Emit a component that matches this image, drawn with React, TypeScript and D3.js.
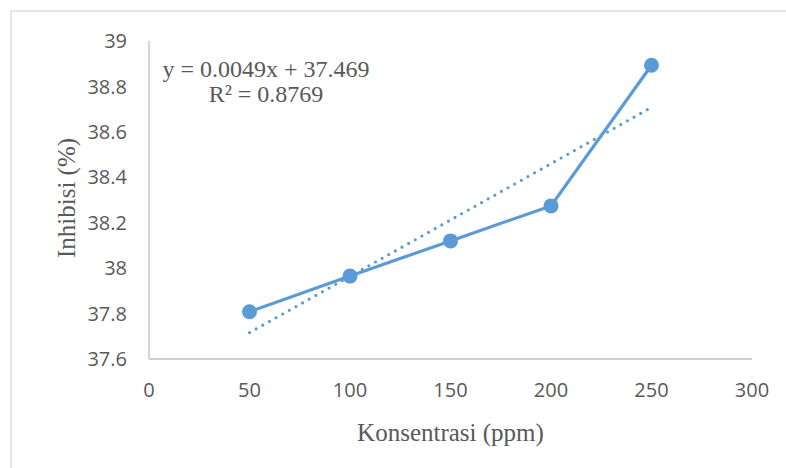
import React from "react";
import { scaleLinear, line, extent } from "d3";

const concentrations = [50, 100, 150, 200, 250];
const inhibition = [37.808, 37.965, 38.12, 38.274, 38.893];
const xTicks = [0, 50, 100, 150, 200, 250, 300];
const yTicks = [37.6, 37.8, 38, 38.2, 38.4, 38.6, 38.8, 39];
const equationText = "y = 0.0049x + 37.469";
const r2Text = "R² = 0.8769";

const App = () => {
  const width = 786;
  const height = 468;
  const margin = { top: 41, right: 34, bottom: 109, left: 149 };
  const innerWidth = width - margin.left - margin.right;
  const innerHeight = height - margin.top - margin.bottom;

  const xScale = scaleLinear().domain([0, 300]).range([0, innerWidth]);
  const yScale = scaleLinear().domain([37.6, 39]).range([innerHeight, 0]);

  const data = concentrations.map((c, i) => ({ x: c, y: inhibition[i] }));

  // linear trendline (least squares), like Excel's
  const n = data.length;
  const mx = data.reduce((s, d) => s + d.x, 0) / n;
  const my = data.reduce((s, d) => s + d.y, 0) / n;
  const slope =
    data.reduce((s, d) => s + (d.x - mx) * (d.y - my), 0) /
    data.reduce((s, d) => s + (d.x - mx) ** 2, 0);
  const intercept = my - slope * mx;
  const [x0, x1] = extent(concentrations) as [number, number];
  const trend = [x0, x1].map((x) => ({ x, y: intercept + slope * x }));

  const path = line<{ x: number; y: number }>()
    .x((d) => xScale(d.x))
    .y((d) => yScale(d.y));

  const tickFont = "'Open Sans', sans-serif";
  const serif = "'Liberation Serif', 'Times New Roman', serif";
  const blue = "#5B9BD5";

  return (
    <svg
      width={width}
      height={height}
      style={{ position: "absolute", left: 0, top: 0, background: "#fff" }}
    >
      <rect x={11} y={11} width={900} height={600} fill="#fff" stroke="#D9D9D9" strokeWidth={1.3} />
      <g transform={`translate(${margin.left}, ${margin.top})`}>
        <line x1={0} x2={0} y1={0} y2={innerHeight} stroke="#BFBFBF" strokeWidth={1.3} />
        <line x1={0} x2={innerWidth} y1={innerHeight} y2={innerHeight} stroke="#BFBFBF" strokeWidth={1.3} />

        {yTicks.map((t, i) => (
          <text
            key={i}
            x={-22}
            y={yScale(t)}
            dy="0.36em"
            textAnchor="end"
            fill="#595959"
            fontFamily={tickFont}
            fontSize={20}
          >
            {t}
          </text>
        ))}
        {xTicks.map((t, i) => (
          <text
            key={i}
            x={xScale(t)}
            y={innerHeight + 38}
            textAnchor="middle"
            fill="#595959"
            fontFamily={tickFont}
            fontSize={20}
          >
            {t}
          </text>
        ))}

        <path
          d={path(trend) || ""}
          fill="none"
          stroke={blue}
          strokeWidth={3.2}
          strokeLinecap="round"
          strokeDasharray="0 7.6"
        />
        <path d={path(data) || ""} fill="none" stroke={blue} strokeWidth={3.2} />
        {data.map((d, i) => (
          <circle key={i} cx={xScale(d.x)} cy={yScale(d.y)} r={7.5} fill={blue} />
        ))}
      </g>

      <text x={266} y={77} textAnchor="middle" fill="#595959" fontFamily={serif} fontSize={24}>
        {equationText}
      </text>
      <text x={266} y={102} textAnchor="middle" fill="#595959" fontFamily={serif} fontSize={24}>
        {r2Text}
      </text>

      <text
        x={margin.left + xScale(150)}
        y={441}
        textAnchor="middle"
        fill="#595959"
        fontFamily={serif}
        fontSize={25}
      >
        Konsentrasi (ppm)
      </text>
      <text
        transform={`translate(75, ${margin.top + innerHeight / 2 - 2}) rotate(-90)`}
        textAnchor="middle"
        fill="#595959"
        fontFamily={serif}
        fontSize={25}
      >
        Inhibisi (%)
      </text>
    </svg>
  );
};

export default App;
